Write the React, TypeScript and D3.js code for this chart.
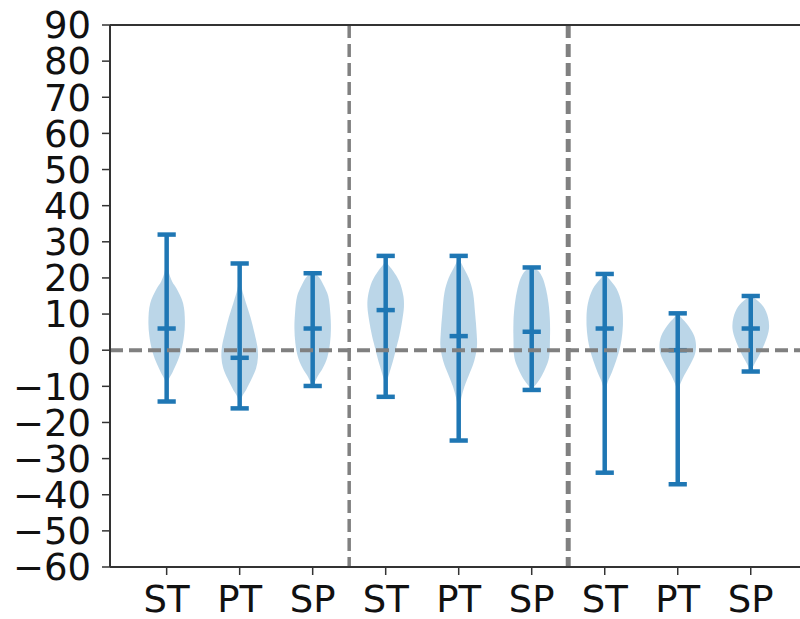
import React from "react";
import * as d3 from "d3";

const categories = ["ST", "PT", "SP", "ST", "PT", "SP", "ST", "PT", "SP"];
const positions = [1, 2, 3, 4, 5, 6, 7, 8, 9];
const maxValues = [32, 24, 21.3, 26.1, 26.1, 22.9, 21.1, 10.2, 15];
const minValues = [-14.2, -16.1, -9.9, -12.9, -25, -11, -33.9, -37.1, -5.9];
const meanValues = [6, -2.1, 6, 11.1, 3.9, 5.1, 6, 0, 6];
const yTicks = [90, 80, 70, 60, 50, 40, 30, 20, 10, 0, -10, -20, -30, -40, -50, -60];
const dividers = [3.5, 6.5];

// violin outlines: [value, relative half-width]
const profile1: [number, number][] = [[32, 0], [26, 0.02], [22, 0.1], [19, 0.3], [17, 0.55], [13, 0.9], [8, 1], [4, 0.95], [0, 0.8], [-3, 0.6], [-6, 0.33], [-8, 0.12], [-10, 0.04], [-14.2, 0]];
const profile2: [number, number][] = [[24, 0], [20, 0.03], [17, 0.12], [13, 0.35], [9, 0.6], [5, 0.8], [1, 0.97], [-2, 1], [-5, 0.9], [-8, 0.65], [-11, 0.35], [-13, 0.12], [-16.1, 0]];
const profile3: [number, number][] = [[21.3, 0], [20.5, 0.3], [18, 0.6], [15, 0.85], [10, 0.97], [6, 1], [2, 0.95], [-2, 0.8], [-5, 0.55], [-7, 0.3], [-9, 0.1], [-9.9, 0]];
const profile4: [number, number][] = [[26.1, 0], [24, 0.1], [22, 0.4], [19, 0.75], [15, 0.97], [12, 1], [8, 0.9], [4, 0.75], [0, 0.55], [-3, 0.4], [-6, 0.22], [-9, 0.06], [-12.9, 0]];
const profile5: [number, number][] = [[26.1, 0], [24, 0.15], [20, 0.55], [16, 0.78], [10, 0.9], [5, 0.98], [1, 1], [-3, 0.85], [-7, 0.55], [-10, 0.32], [-13, 0.15], [-16, 0.04], [-20, 0.01], [-25, 0]];
const profile6: [number, number][] = [[22.9, 0], [22, 0.35], [20, 0.6], [17, 0.78], [13, 0.92], [8, 1], [3, 1], [-2, 0.95], [-5, 0.75], [-8, 0.45], [-10, 0.15], [-11, 0]];
const profile7: [number, number][] = [[21.1, 0], [20, 0.2], [17, 0.65], [13, 0.92], [9, 1], [5, 0.97], [1, 0.85], [-3, 0.62], [-6, 0.4], [-9, 0.15], [-12, 0.03], [-20, 0.005], [-33.9, 0]];
const profile8: [number, number][] = [[10.2, 0], [9, 0.2], [7, 0.55], [4, 0.9], [1.5, 1], [-1, 0.95], [-4, 0.68], [-7, 0.35], [-10, 0.1], [-13, 0.02], [-20, 0.005], [-37.1, 0]];
const profile9: [number, number][] = [[15, 0], [14, 0.3], [12, 0.7], [9, 0.95], [6, 1], [3, 0.85], [0, 0.6], [-2, 0.4], [-4, 0.18], [-5.9, 0]];
const profiles = [profile1, profile2, profile3, profile4, profile5, profile6, profile7, profile8, profile9];

const BLUE = "#1f77b4";
const FONT = "'DejaVu Sans', sans-serif";

export default function App() {
  const W = 800, H = 619;
  const left = 110, top = 25, bottom = 567;
  const x = d3.scaleLinear().domain([0.224, 9.776]).range([left, 807.4]);
  const y = d3.scaleLinear().domain([-60, 90]).range([bottom, top]);
  const halfW = x(1.25) - x(1);
  const capHalf = x(1.125) - x(1);

  const area = d3
    .area<[number, number]>()
    .y((d) => y(d[0]))
    .curve(d3.curveCatmullRom);

  return (
    <svg width={W} height={H} style={{ position: "absolute", left: 0, top: 0, background: "#fff" }}>
      <rect x={0} y={0} width={W} height={H} fill="#fff" />
      {/* violin bodies */}
      {profiles.map((p, i) => {
        const cx = x(positions[i]);
        const a = area.x0((d) => cx - d[1] * halfW).x1((d) => cx + d[1] * halfW);
        return <path key={"b" + i} d={a(p) || ""} fill={BLUE} fillOpacity={0.3} stroke="none" />;
      })}
      {/* stems, caps, means */}
      {positions.map((p, i) => {
        const cx = x(p);
        return (
          <g key={"l" + i} stroke={BLUE} strokeWidth={4.5}>
            <line x1={cx} x2={cx} y1={y(maxValues[i])} y2={y(minValues[i])} />
            <line x1={cx - capHalf} x2={cx + capHalf} y1={y(maxValues[i])} y2={y(maxValues[i])} />
            <line x1={cx - capHalf} x2={cx + capHalf} y1={y(minValues[i])} y2={y(minValues[i])} />
            <line x1={cx - capHalf} x2={cx + capHalf} y1={y(meanValues[i])} y2={y(meanValues[i])} />
          </g>
        );
      })}
      {/* zero line */}
      <line x1={left} x2={W} y1={y(0)} y2={y(0)} stroke="#808080" strokeWidth={4} strokeDasharray="13,6" />
      {/* dividers */}
      {dividers.map((d, i) => (
        <line key={"d" + i} x1={x(d)} x2={x(d)} y1={top} y2={bottom} stroke="#808080" strokeWidth={i === 0 ? 3.5 : 5} strokeDasharray="13,6" />
      ))}
      {/* spines */}
      <line x1={left} x2={W} y1={top} y2={top} stroke="#333" strokeWidth={2} />
      <line x1={left} x2={W} y1={bottom} y2={bottom} stroke="#333" strokeWidth={2} />
      <line x1={left} x2={left} y1={top} y2={bottom} stroke="#333" strokeWidth={2} />
      {/* y ticks */}
      {yTicks.map((t) => (
        <g key={"y" + t}>
          <line x1={left - 8} x2={left} y1={y(t)} y2={y(t)} stroke="#333" strokeWidth={1.5} />
          <text x={91} y={y(t)} dy="0.36em" textAnchor="end" fontFamily={FONT} fontSize={37} fill="#111">
            {t < 0 ? "\u2212" + Math.abs(t) : String(t)}
          </text>
        </g>
      ))}
      {/* x ticks */}
      {positions.map((p, i) => (
        <g key={"x" + i}>
          <line x1={x(p)} x2={x(p)} y1={bottom} y2={bottom + 8} stroke="#333" strokeWidth={1.5} />
          <text x={x(p)} y={612} textAnchor="middle" fontFamily={FONT} fontSize={37} fill="#111">
            {categories[i]}
          </text>
        </g>
      ))}
    </svg>
  );
}
